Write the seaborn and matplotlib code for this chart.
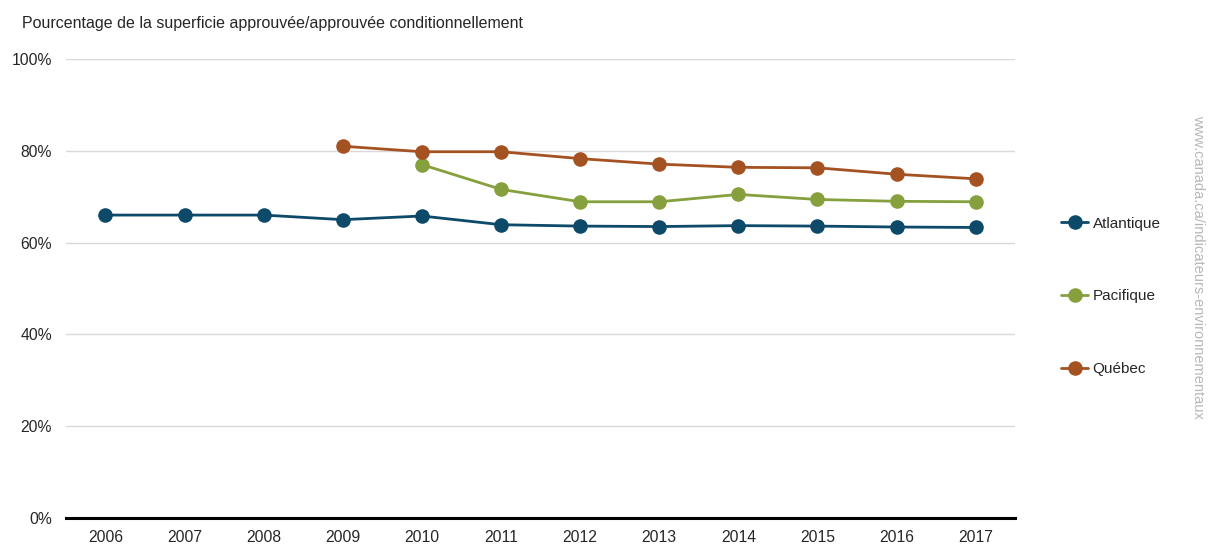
import numpy as np
import pandas as pd
import matplotlib
matplotlib.use("Agg")
import matplotlib.pyplot as plt
import seaborn as sns

# --- Data ---
years = [2006, 2007, 2008, 2009, 2010, 2011, 2012, 2013, 2014, 2015, 2016, 2017]
atlantique = [66.0, 66.0, 66.0, 65.0, 65.8, 63.9, 63.6, 63.5, 63.7, 63.6, 63.4, 63.3]
pacifique = [np.nan, np.nan, np.nan, np.nan, 77.0, 71.6, 68.9, 68.9, 70.5, 69.4, 69.0, 68.9]
quebec = [np.nan, np.nan, np.nan, 81.0, 79.8, 79.8, 78.3, 77.1, 76.4, 76.3, 74.9, 73.9]
regions = ["Atlantique", "Pacifique", "Québec"]
colors = ["#0d4a6a", "#86a03e", "#a55222"]

df = pd.DataFrame({"Année": years, "Atlantique": atlantique,
                   "Pacifique": pacifique, "Québec": quebec})
long_df = df.melt(id_vars="Année", var_name="Région", value_name="Pourcentage").dropna()

sns.set_style("white")
plt.rcParams["font.family"] = ["Liberation Sans", "DejaVu Sans"]

fig = plt.figure(figsize=(12.1, 5.44), dpi=100)
ax = fig.add_axes([0.0545, 0.0478, 0.7845, 0.8437])

sns.lineplot(data=long_df, x="Année", y="Pourcentage", hue="Région",
             hue_order=regions, palette=colors, marker="o", markersize=10.5,
             markeredgewidth=0, linewidth=2, ax=ax, legend=False)

ax.set_xlim(2005.5, 2017.5)
ax.set_ylim(0, 100)
ax.set_xticks(years)
ax.set_xticklabels([str(y) for y in years], fontsize=11.3)
ax.set_yticks([0, 20, 40, 60, 80, 100])
ax.set_yticklabels([f"{v}%" for v in [0, 20, 40, 60, 80, 100]], fontsize=11.3)
ax.tick_params(axis="both", length=0)
ax.tick_params(axis="x", pad=9)
ax.tick_params(axis="y", pad=10)
ax.set_xlabel("")
ax.set_ylabel("")
ax.grid(axis="y", color="#d9d9d9", linewidth=1)
ax.grid(axis="x", visible=False)
for s in ["top", "right", "left"]:
    ax.spines[s].set_visible(False)
ax.spines["bottom"].set_color("black")
ax.spines["bottom"].set_linewidth(2.2)
ax.spines["bottom"].set_zorder(5)

# Legend
handles = [plt.Line2D([], [], color=c, marker="o", markersize=10.5,
                      markeredgewidth=0, linewidth=2) for c in colors]
fig.legend(handles, regions, loc="upper left", bbox_to_anchor=(0.872, 0.613),
           frameon=False, fontsize=11, handlelength=1.75, handletextpad=0.3,
           labelspacing=3.85, borderaxespad=0)

fig.text(0.018, 0.957, "Pourcentage de la superficie approuvée/approuvée conditionnellement",
         fontsize=11.5, ha="left", va="center")
fig.text(0.990, 0.51, "www.canada.ca/indicateurs-environnementaux", rotation=270,
         fontsize=10.5, color="#b8b8b8", ha="center", va="center")

fig.savefig("out.png", dpi=100)
plt.close(fig)
